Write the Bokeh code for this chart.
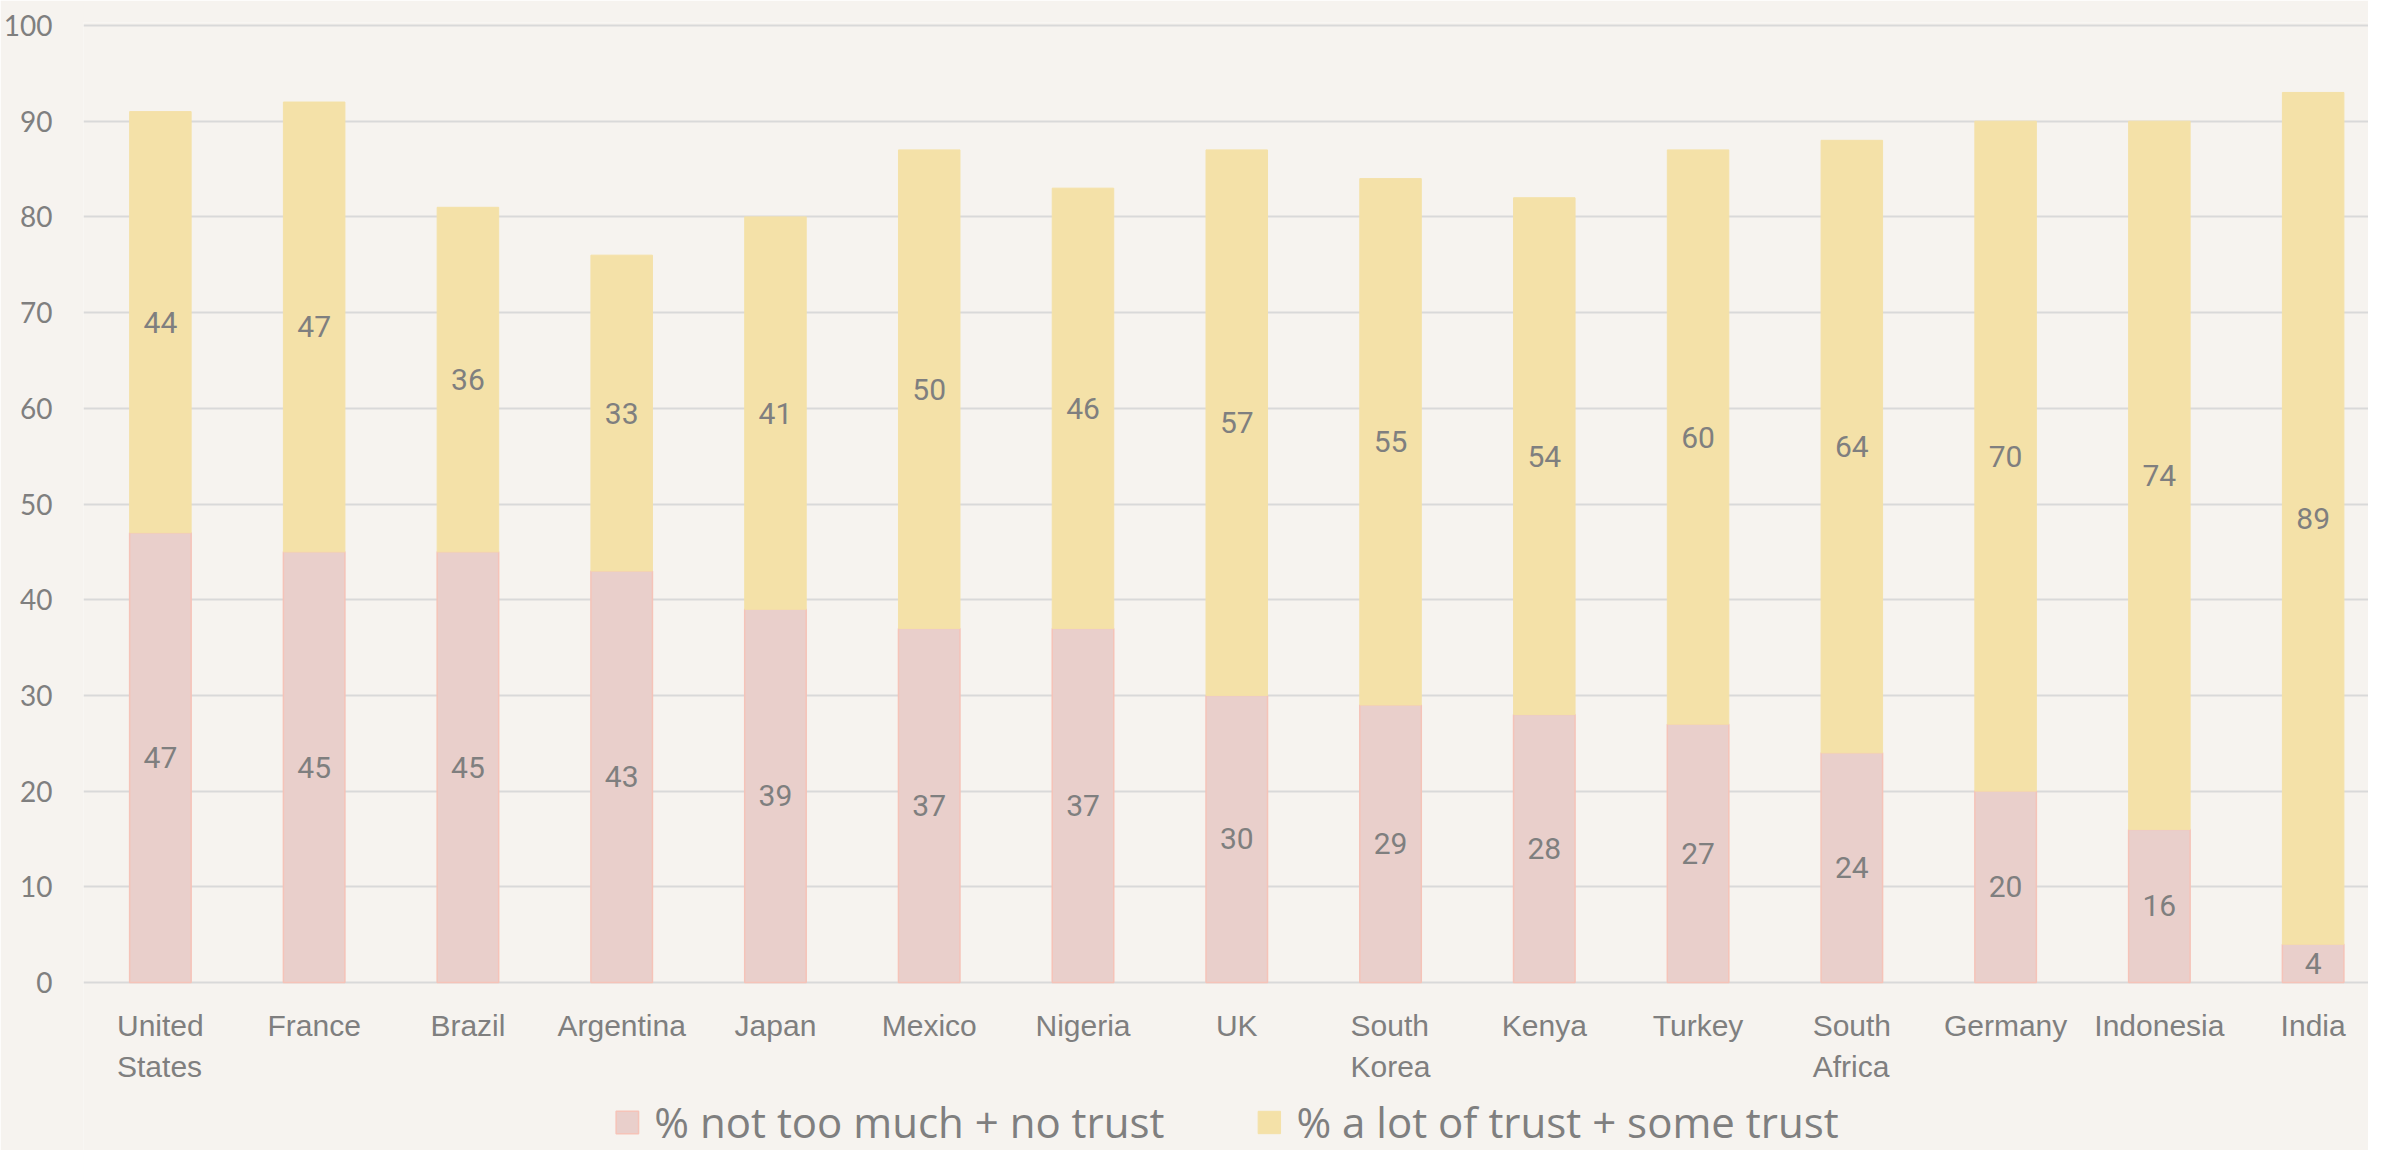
from bokeh.plotting import figure
from bokeh.models import (ColumnDataSource, Range1d, FixedTicker,
                          Legend, LegendItem, LabelSet)
from bokeh.embed import file_html
from bokeh.resources import INLINE
from bokeh.core.properties import value

countries = ["United States", "France", "Brazil", "Argentina", "Japan", "Mexico", "Nigeria",
             "UK", "South Korea", "Kenya", "Turkey", "South Africa", "Germany", "Indonesia", "India"]
tick_labels = ["United\nStates", "France", "Brazil", "Argentina", "Japan", "Mexico", "Nigeria",
               "UK", "South\nKorea", "Kenya", "Turkey", "South\nAfrica", "Germany", "Indonesia", "India"]
no_trust = [47, 45, 45, 43, 39, 37, 37, 30, 29, 28, 27, 24, 20, 16, 4]
trust = [44, 47, 36, 33, 41, 50, 46, 57, 55, 54, 60, 64, 70, 74, 89]
y_ticks = [0, 10, 20, 30, 40, 50, 60, 70, 80, 90, 100]
series_names = ["% not too much + no trust", "% a lot of trust + some trust"]

BG = "#F6F3EF"
PINK = "#E9CFCB"
PINK_LINE = "#F5C3B8"
YELLOW = "#F4E1A8"
TEXT = "#7F7F7F"
GRID = "#D9D9D9"

xs = [i + 0.5 for i in range(len(countries))]
total = [a + b for a, b in zip(no_trust, trust)]
src = ColumnDataSource(dict(
    x=xs, no_trust=no_trust, trust=trust, total=total,
    zero=[0] * len(xs),
    mid_no=[v / 2 for v in no_trust],
    mid_tr=[a + b / 2 for a, b in zip(no_trust, trust)],
    lab_no=[str(v) for v in no_trust],
    lab_tr=[str(v) for v in trust],
    cat=tick_labels,
))

# the frame extends below zero so the category labels and legend sit inside it
p = figure(width=2368, height=1150, output_backend="svg", toolbar_location=None,
           x_range=Range1d(0, 14.86), y_range=Range1d(-17.55, 100.31),
           background_fill_color=BG, border_fill_color=BG, outline_line_color=None,
           min_border_left=76, min_border_right=0, min_border_top=22, min_border_bottom=0,
           x_axis_location=None)

r_no = p.vbar(x="x", bottom="zero", top="no_trust", width=0.4, source=src,
              fill_color=PINK, line_color=PINK_LINE, line_width=1.5)
r_tr = p.vbar(x="x", bottom="no_trust", top="total", width=0.4, source=src,
              fill_color=YELLOW, line_color=YELLOW, line_width=1)

for ycol, tcol in (("mid_no", "lab_no"), ("mid_tr", "lab_tr")):
    p.add_layout(LabelSet(x="x", y=ycol, text=tcol, source=src, text_align="center",
                          text_baseline="middle", text_color=TEXT, text_font_size="30px",
                          text_font=value("Roboto")))

# category labels under the zero line
p.add_layout(LabelSet(x="x", y="zero", text="cat", source=src, y_offset=-26,
                      text_align="center", text_baseline="top", text_color=TEXT,
                      text_font_size="30px", text_font=value("Liberation Sans"),
                      text_line_height=1.25))

p.yaxis.ticker = FixedTicker(ticks=y_ticks)
p.yaxis.major_label_text_font = "Lato"
p.yaxis.major_label_text_font_size = "28px"
p.yaxis.major_label_text_color = TEXT
p.yaxis.major_label_standoff = 25
p.yaxis.major_tick_line_color = None
p.yaxis.minor_tick_line_color = None
p.yaxis.axis_line_color = None

p.xgrid.grid_line_color = None
p.ygrid.grid_line_color = GRID
p.ygrid.grid_line_width = 2

legend = Legend(items=[LegendItem(label=series_names[0], renderers=[r_no]),
                       LegendItem(label=series_names[1], renderers=[r_tr])],
                orientation="horizontal", location="bottom_center",
                background_fill_alpha=0, border_line_color=None,
                label_text_font="Open Sans", label_text_font_size="42px",
                label_text_color=TEXT, glyph_width=28, glyph_height=28,
                label_standoff=14, spacing=90, margin=0, padding=0)
p.add_layout(legend, "center")

open("out.html", "w").write(file_html(p, INLINE))
